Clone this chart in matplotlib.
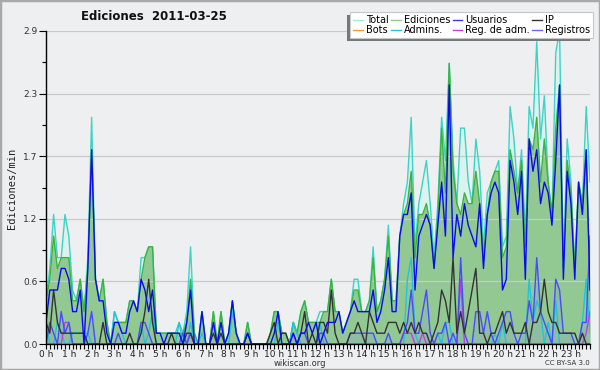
import numpy as np
import matplotlib
matplotlib.use("Agg")
import matplotlib.pyplot as plt
from matplotlib.lines import Line2D
from matplotlib.patches import Rectangle

# ---- data: values per minute, one point per 10-minute bin (144 bins) ----
total = [0.4, 0.7, 1.2, 0.8, 0.8, 1.2, 1.0, 0.5, 0.4, 0.6, 0.3, 0.8,
         2.1, 0.6, 0.4, 0.6, 0.2, 0.0, 0.3, 0.2, 0.2, 0.2, 0.4, 0.4,
         0.3, 0.8, 0.8, 0.9, 0.9, 0.1, 0.1, 0.1, 0.1, 0.1, 0.1, 0.2,
         0.1, 0.3, 0.9, 0.1, 0.0, 0.3, 0.0, 0.0, 0.3, 0.0, 0.3, 0.0,
         0.1, 0.4, 0.1, 0.0, 0.0, 0.2, 0.0, 0.0, 0.0, 0.0, 0.0, 0.1,
         0.3, 0.3, 0.1, 0.1, 0.0, 0.2, 0.1, 0.3, 0.4, 0.2, 0.2, 0.2,
         0.3, 0.3, 0.3, 0.6, 0.3, 0.3, 0.1, 0.2, 0.3, 0.6, 0.6, 0.3,
         0.3, 0.4, 0.9, 0.3, 0.4, 0.6, 1.1, 0.4, 0.4, 1.0, 1.3, 1.5,
         2.1, 0.9, 1.3, 1.5, 1.7, 1.3, 0.8, 1.3, 2.1, 1.7, 2.6, 1.7,
         1.3, 2.0, 2.0, 1.5, 1.3, 1.9, 1.6, 0.9, 1.4, 1.5, 1.6, 1.7,
         0.9, 1.0, 2.2, 1.9, 1.4, 1.8, 1.0, 2.2, 2.0, 2.8, 1.9, 2.3,
         1.5, 1.2, 2.7, 2.9, 0.7, 1.9, 1.5, 0.7, 1.5, 1.3, 2.2, 1.5]

edits = [0.4, 0.6, 1.0, 0.7, 0.8, 0.8, 0.8, 0.4, 0.4, 0.6, 0.3, 0.7,
         1.8, 0.6, 0.4, 0.6, 0.2, 0.0, 0.2, 0.2, 0.2, 0.2, 0.4, 0.4,
         0.3, 0.6, 0.8, 0.9, 0.9, 0.1, 0.1, 0.1, 0.1, 0.1, 0.1, 0.1,
         0.1, 0.2, 0.6, 0.1, 0.0, 0.3, 0.0, 0.0, 0.3, 0.0, 0.3, 0.0,
         0.1, 0.4, 0.1, 0.0, 0.0, 0.2, 0.0, 0.0, 0.0, 0.0, 0.0, 0.1,
         0.3, 0.3, 0.1, 0.1, 0.0, 0.2, 0.1, 0.3, 0.4, 0.2, 0.2, 0.2,
         0.2, 0.3, 0.3, 0.6, 0.3, 0.3, 0.1, 0.2, 0.3, 0.5, 0.5, 0.3,
         0.3, 0.4, 0.8, 0.3, 0.4, 0.6, 1.0, 0.4, 0.4, 1.0, 1.2, 1.3,
         1.6, 0.8, 1.2, 1.2, 1.3, 1.1, 0.7, 1.2, 2.0, 1.4, 2.6, 1.6,
         1.3, 1.2, 1.4, 1.3, 1.3, 1.6, 1.3, 0.8, 1.2, 1.5, 1.6, 1.6,
         0.8, 0.9, 1.8, 1.6, 1.4, 1.7, 0.9, 1.9, 1.8, 2.1, 1.5, 1.9,
         1.5, 1.2, 2.0, 2.4, 0.7, 1.7, 1.4, 0.7, 1.5, 1.3, 1.8, 0.5]

users = [0.2, 0.5, 0.5, 0.5, 0.7, 0.7, 0.6, 0.3, 0.3, 0.5, 0.0, 0.7,
         1.8, 0.6, 0.4, 0.4, 0.1, 0.0, 0.2, 0.2, 0.1, 0.1, 0.3, 0.4,
         0.3, 0.6, 0.5, 0.3, 0.5, 0.1, 0.1, 0.0, 0.1, 0.1, 0.1, 0.1,
         0.0, 0.2, 0.5, 0.0, 0.0, 0.3, 0.0, 0.0, 0.2, 0.0, 0.2, 0.0,
         0.1, 0.4, 0.1, 0.0, 0.0, 0.1, 0.0, 0.0, 0.0, 0.0, 0.0, 0.0,
         0.1, 0.3, 0.0, 0.0, 0.0, 0.1, 0.0, 0.1, 0.1, 0.2, 0.1, 0.2,
         0.0, 0.1, 0.2, 0.2, 0.2, 0.3, 0.1, 0.2, 0.3, 0.4, 0.3, 0.3,
         0.3, 0.3, 0.5, 0.2, 0.3, 0.5, 0.8, 0.3, 0.3, 1.0, 1.2, 1.2,
         1.4, 0.5, 1.0, 1.1, 1.2, 1.1, 0.7, 1.1, 1.5, 1.0, 2.4, 0.8,
         1.2, 1.0, 1.3, 1.1, 1.0, 0.9, 1.3, 0.7, 1.2, 1.4, 1.5, 1.4,
         0.5, 0.6, 1.7, 1.5, 1.2, 1.6, 0.6, 1.9, 1.6, 1.8, 1.3, 1.5,
         1.4, 1.1, 1.7, 2.4, 0.6, 1.6, 1.3, 0.6, 1.5, 1.2, 1.8, 0.5]

ip = [0.2, 0.1, 0.5, 0.2, 0.1, 0.1, 0.1, 0.1, 0.1, 0.1, 0.1, 0.0,
      0.0, 0.0, 0.0, 0.2, 0.0, 0.0, 0.0, 0.0, 0.0, 0.0, 0.1, 0.0,
      0.0, 0.1, 0.3, 0.6, 0.2, 0.0, 0.0, 0.0, 0.0, 0.1, 0.0, 0.0,
      0.0, 0.1, 0.1, 0.0, 0.0, 0.0, 0.0, 0.0, 0.1, 0.0, 0.1, 0.0,
      0.0, 0.0, 0.0, 0.0, 0.0, 0.1, 0.0, 0.0, 0.0, 0.0, 0.0, 0.1,
      0.2, 0.0, 0.1, 0.1, 0.0, 0.0, 0.0, 0.1, 0.3, 0.0, 0.1, 0.0,
      0.2, 0.2, 0.1, 0.5, 0.1, 0.0, 0.0, 0.0, 0.1, 0.1, 0.2, 0.1,
      0.0, 0.3, 0.2, 0.1, 0.1, 0.1, 0.2, 0.2, 0.2, 0.1, 0.2, 0.1,
      0.2, 0.1, 0.2, 0.1, 0.1, 0.0, 0.1, 0.2, 0.5, 0.4, 0.2, 0.8,
      0.1, 0.3, 0.1, 0.3, 0.5, 0.7, 0.1, 0.1, 0.0, 0.1, 0.1, 0.2,
      0.3, 0.1, 0.2, 0.1, 0.1, 0.1, 0.2, 0.0, 0.2, 0.2, 0.3, 0.6,
      0.3, 0.2, 0.2, 0.1, 0.1, 0.1, 0.1, 0.1, 0.0, 0.1, 0.0, 0.0]

logs = [0.0, 0.2, 0.1, 0.0, 0.3, 0.1, 0.2, 0.0, 0.0, 0.0, 0.0, 0.1,
        0.3, 0.0, 0.0, 0.0, 0.0, 0.0, 0.0, 0.1, 0.0, 0.0, 0.0, 0.0,
        0.0, 0.2, 0.2, 0.1, 0.0, 0.0, 0.0, 0.0, 0.0, 0.0, 0.0, 0.0,
        0.1, 0.0, 0.1, 0.0, 0.0, 0.0, 0.0, 0.0, 0.0, 0.0, 0.0, 0.0,
        0.0, 0.0, 0.0, 0.0, 0.0, 0.0, 0.0, 0.0, 0.0, 0.0, 0.0, 0.0,
        0.0, 0.0, 0.0, 0.0, 0.0, 0.1, 0.0, 0.1, 0.1, 0.0, 0.0, 0.0,
        0.1, 0.1, 0.0, 0.0, 0.0, 0.0, 0.0, 0.0, 0.1, 0.1, 0.1, 0.1,
        0.1, 0.1, 0.1, 0.0, 0.0, 0.0, 0.1, 0.0, 0.0, 0.0, 0.1, 0.2,
        0.5, 0.1, 0.1, 0.3, 0.5, 0.1, 0.0, 0.1, 0.1, 0.2, 0.0, 0.1,
        0.0, 0.8, 0.1, 0.0, 0.0, 0.3, 0.3, 0.1, 0.3, 0.1, 0.0, 0.1,
        0.2, 0.3, 0.3, 0.1, 0.0, 0.1, 0.1, 0.4, 0.2, 0.8, 0.3, 0.2,
        0.1, 0.0, 0.6, 0.5, 0.1, 0.1, 0.1, 0.0, 0.0, 0.2, 0.2, 1.0]

admins = [0.2, 0.0, 0.0, 0.2, 0.1, 0.0, 0.0, 0.1, 0.1, 0.1, 0.1, 0.1,
          0.0, 0.0, 0.0, 0.0, 0.0, 0.0, 0.3, 0.2, 0.1, 0.0, 0.0, 0.0,
          0.0, 0.2, 0.0, 0.1, 0.3, 0.0, 0.0, 0.0, 0.0, 0.0, 0.0, 0.2,
          0.0, 0.0, 0.2, 0.0, 0.0, 0.1, 0.0, 0.0, 0.0, 0.0, 0.0, 0.0,
          0.0, 0.3, 0.1, 0.0, 0.0, 0.0, 0.0, 0.0, 0.0, 0.0, 0.0, 0.0,
          0.0, 0.2, 0.0, 0.0, 0.0, 0.2, 0.1, 0.0, 0.0, 0.0, 0.0, 0.0,
          0.2, 0.0, 0.0, 0.0, 0.0, 0.0, 0.0, 0.0, 0.0, 0.0, 0.0, 0.0,
          0.0, 0.0, 0.0, 0.0, 0.0, 0.0, 0.0, 0.0, 0.0, 0.0, 0.0, 0.6,
          0.8, 0.1, 0.0, 0.0, 0.0, 0.0, 0.0, 0.1, 0.0, 0.2, 0.2, 0.0,
          0.0, 0.0, 0.0, 0.0, 0.0, 0.0, 0.0, 0.0, 0.0, 0.0, 0.1, 0.0,
          0.2, 0.0, 0.0, 0.0, 0.0, 0.0, 0.0, 0.6, 0.2, 0.4, 0.3, 0.0,
          0.2, 0.0, 0.4, 0.0, 0.0, 0.0, 0.0, 0.0, 0.0, 0.2, 0.6, 0.1]

admlogs = [0.0, 0.0, 0.0, 0.0, 0.0, 0.2, 0.2, 0.0, 0.0, 0.0, 0.0, 0.0,
           0.0, 0.0, 0.0, 0.0, 0.0, 0.0, 0.0, 0.0, 0.0, 0.0, 0.0, 0.0,
           0.0, 0.0, 0.0, 0.0, 0.0, 0.0, 0.0, 0.0, 0.0, 0.0, 0.0, 0.0,
           0.0, 0.0, 0.1, 0.0, 0.0, 0.0, 0.0, 0.0, 0.0, 0.0, 0.0, 0.0,
           0.0, 0.0, 0.0, 0.0, 0.0, 0.0, 0.0, 0.0, 0.0, 0.0, 0.0, 0.0,
           0.0, 0.0, 0.0, 0.0, 0.0, 0.0, 0.0, 0.0, 0.0, 0.0, 0.0, 0.0,
           0.0, 0.0, 0.0, 0.0, 0.0, 0.0, 0.0, 0.0, 0.0, 0.0, 0.0, 0.0,
           0.0, 0.0, 0.0, 0.0, 0.0, 0.0, 0.0, 0.0, 0.0, 0.0, 0.1, 0.1,
           0.1, 0.0, 0.0, 0.1, 0.0, 0.0, 0.0, 0.0, 0.0, 0.0, 0.0, 0.0,
           0.0, 0.6, 0.0, 0.0, 0.0, 0.0, 0.0, 0.0, 0.0, 0.0, 0.0, 0.0,
           0.0, 0.0, 0.0, 0.0, 0.0, 0.0, 0.0, 0.0, 0.0, 0.0, 0.0, 0.0,
           0.0, 0.0, 0.0, 0.0, 0.0, 0.0, 0.0, 0.0, 0.0, 0.0, 0.1, 0.3]

bots = [0.0] * 144

hours = list(range(24))
hour_labels = [f"{h} h" for h in hours]
ytick_vals = [0.0, 0.58, 1.16, 1.74, 2.32, 2.9]
ytick_labels = ["0.0", "0.6", "1.2", "1.7", "2.3", "2.9"]

# ---- figure ----
BG = "#eeeff0"
fig = plt.figure(figsize=(6, 3.7), dpi=100, facecolor=BG)
ax = fig.add_axes([46 / 600, 26 / 370, 544 / 600, 313 / 370])
ax.set_facecolor(BG)

x = np.arange(len(total)) / 6.0

c_total, c_total_fill = "#3dd3c6", "#dbf3ee"
c_edits, c_edits_fill = "#3cb43c", "#92c992"
c_users = "#0a0aee"
c_ip = "#333333"
c_bots = "#ff9933"
c_admins = "#22c4d6"
c_admlogs = "#c040e0"
c_logs = "#4a4aff"

lw = 1.0
ax.fill_between(x, total, color=c_total_fill, lw=0, zorder=1)
ax.plot(x, total, color=c_total, lw=lw, zorder=2)
ax.fill_between(x, edits, color=c_edits_fill, lw=0, zorder=1)
ax.plot(x, edits, color=c_edits, lw=lw, zorder=2)
ax.fill_between(x, logs, color="#8090e0", alpha=0.18, lw=0, zorder=1)
ax.plot(x, bots, color=c_bots, lw=lw, zorder=2)
ax.plot(x, admins, color=c_admins, lw=lw, zorder=2)
ax.plot(x, admlogs, color=c_admlogs, lw=lw, zorder=2)
ax.plot(x, logs, color=c_logs, lw=lw, zorder=2)
ax.plot(x, ip, color=c_ip, lw=lw, zorder=2)
ax.plot(x, users, color=c_users, lw=lw, zorder=2)

ax.set_xlim(0, x[-1])
ax.set_ylim(0, 2.9)

ax.set_xticks(hours)
ax.set_xticklabels(hour_labels)
ax.set_xticks(x, minor=True)
ax.set_yticks(ytick_vals)
ax.set_yticklabels(ytick_labels)
ax.set_yticks([(a + b) / 2 for a, b in zip(ytick_vals[:-1], ytick_vals[1:])], minor=True)

ax.tick_params(axis="x", which="both", direction="out", length=3.5, width=0.8,
               pad=0.5, labelsize=6.5, colors="black", labelcolor="#222222")
ax.tick_params(axis="y", which="major", direction="out", length=5, width=0.8,
               pad=1, labelsize=6.5, labelcolor="#333333")
ax.tick_params(axis="y", which="minor", direction="out", length=3, width=0.8)

for s in ("top", "right"):
    ax.spines[s].set_visible(False)
for s in ("left", "bottom"):
    ax.spines[s].set_linewidth(1.0)
    ax.spines[s].set_color("black")

ax.yaxis.grid(True, which="major", color="#c9c9c9", lw=0.9)
ax.set_axisbelow("line")

# ---- texts ----
fig.text(154 / 600, 1 - 16 / 370, "Ediciones  2011-03-25", ha="center", va="center",
         fontsize=8.5, fontweight="bold", color="#111111")
fig.text(12 / 600, 1 - 188 / 370, "Ediciones/min", rotation=90, ha="center", va="center",
         fontsize=7.5, family="DejaVu Sans Mono", color="#222222")
fig.text(0.5, 1 - 363.5 / 370, "wikiscan.org", ha="center", va="center",
         fontsize=6, color="#333333")
fig.text(590 / 600, 1 - 363 / 370, "CC BY-SA 3.0", ha="right", va="center",
         fontsize=5, color="#333333")

# ---- legend (column-major: 2 rows x 4 columns) ----
entries = [("Total", "#a8e8de"), ("Bots", c_bots),
           ("Ediciones", "#8ad08a"), ("Admins.", c_admins),
           ("Usuarios", "#3a3ae0"), ("Reg. de adm.", c_admlogs),
           ("IP", c_ip), ("Registros", "#6a6af0")]
handles = [Line2D([], [], color=c, lw=1.0) for _, c in entries]
labels = [n for n, _ in entries]
leg = ax.legend(handles, labels, ncol=4, loc="upper right",
                bbox_to_anchor=(593 / 600, 1 - 12 / 370), bbox_transform=fig.transFigure,
                fontsize=7, frameon=True, fancybox=False, framealpha=1,
                edgecolor="#c8c8c8", facecolor="white", handlelength=1.0,
                handletextpad=0.3, columnspacing=0.25, labelspacing=0.0,
                borderpad=0.3, borderaxespad=0,
                shadow={"ox": -2.2, "oy": -2.2, "facecolor": "#777777",
                        "edgecolor": "none", "alpha": 1.0})
leg.get_frame().set_linewidth(0.8)
leg.set_zorder(10)

# figure border
fig.patches.append(Rectangle((0, 0), 1, 1, transform=fig.transFigure, fill=False,
                             edgecolor="#a9a9a9", lw=2.5, zorder=20))

fig.savefig("out.png", dpi=100, facecolor=BG)
